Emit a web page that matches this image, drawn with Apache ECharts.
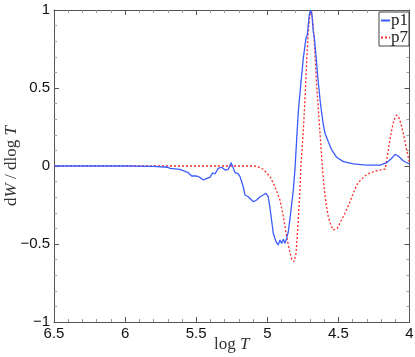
<!DOCTYPE html>
<html>
<head>
<meta charset="utf-8">
<script src="https://cdn.jsdelivr.net/npm/echarts@6/dist/echarts.min.js"></script>
<style>
  html, body { margin: 0; padding: 0; background: #fff; }
  #chart { width: 415px; height: 357px; }
</style>
</head>
<body>
<div id="chart"></div>
<script>
const seriesNames = ["p1", "p7"];

const p1LogT = [6.5, 6.2, 6.0, 5.8, 5.7, 5.684, 5.614, 5.556, 5.532, 5.497, 5.473, 5.45, 5.426, 5.403, 5.384,
  5.368, 5.345, 5.333, 5.321, 5.297, 5.274, 5.255, 5.243, 5.227, 5.204, 5.192, 5.169, 5.157, 5.134, 5.122,
  5.098, 5.075, 5.051, 5.028, 5.009, 4.993, 4.976, 4.958, 4.939, 4.923, 4.911, 4.899, 4.887, 4.876, 4.864,
  4.852, 4.836, 4.817, 4.805, 4.793, 4.782, 4.765, 4.747, 4.728, 4.719, 4.712, 4.705, 4.695, 4.686, 4.677,
  4.670, 4.658, 4.642, 4.625, 4.606, 4.594, 4.571, 4.547, 4.512, 4.465, 4.395, 4.301, 4.207, 4.16, 4.125,
  4.102, 4.079, 4.043, 4.0];
const p1Values = [0, 0, 0, -0.002, -0.008, -0.015, -0.021, -0.043, -0.064, -0.064, -0.073, -0.09, -0.079, -0.073, -0.043,
  -0.051, -0.015, -0.026, -0.008, -0.026, -0.021, 0.021, -0.004, -0.043, -0.051, -0.068, -0.133, -0.186, -0.197, -0.207,
  -0.229, -0.218, -0.197, -0.186, -0.175, -0.197, -0.303, -0.431, -0.485, -0.506, -0.474, -0.496, -0.47, -0.496, -0.464,
  -0.421, -0.303, -0.154, -0.015, 0.177, 0.348, 0.519, 0.69, 0.819, 0.84, 0.904, 0.968, 1.0, 0.968, 0.861,
  0.829, 0.712, 0.54, 0.391, 0.263, 0.21, 0.156, 0.103, 0.056, 0.028, 0.013, 0.006, 0.006, 0.021, 0.049,
  0.075, 0.064, 0.032, 0.013];

const p7LogT = [6.5, 6.0, 5.5, 5.1, 5.075, 5.028, 4.981, 4.946, 4.911, 4.887, 4.864, 4.845, 4.828, 4.812, 4.798,
  4.782, 4.77, 4.765, 4.747, 4.735, 4.723, 4.712, 4.7, 4.688, 4.677, 4.665, 4.653, 4.635, 4.617, 4.61,
  4.601, 4.587, 4.571, 4.554, 4.536, 4.524, 4.508, 4.484, 4.454, 4.423, 4.395, 4.371, 4.348, 4.313, 4.283,
  4.23, 4.172, 4.16, 4.142, 4.125, 4.109, 4.09, 4.072, 4.055, 4.036, 4.02, 4.0];
const p7Values = [0, 0, 0, 0, -0.002, -0.021, -0.068, -0.133, -0.218, -0.325, -0.453, -0.538, -0.598, -0.613, -0.56,
  -0.346, -0.154, -0.015, 0.22, 0.434, 0.669, 0.861, 0.968, 0.989, 0.904, 0.712, 0.519, 0.284, 0.049, -0.036,
  -0.133, -0.239, -0.325, -0.378, -0.41, -0.421, -0.4, -0.357, -0.303, -0.239, -0.175, -0.122, -0.094, -0.064, -0.047,
  -0.03, -0.02, 0.038, 0.145, 0.231, 0.295, 0.327, 0.306, 0.252, 0.177, 0.103, 0.02];

const xTickLabels = ["4", "4.5", "5", "5.5", "6", "6.5"];

const tickFont = "'Liberation Sans', Arial, sans-serif";
const nameFont = "'Liberation Serif', 'DejaVu Serif', serif";
const axisColor = "#555";

const chart = echarts.init(document.getElementById("chart"), null, { renderer: "canvas" });

const baseAxis = {
  axisLine: { show: true, onZero: false, lineStyle: { color: axisColor, width: 1 } },
  axisTick: { show: true, inside: true, length: 5, lineStyle: { color: axisColor } },
  minorTick: { show: true, splitNumber: 5, length: 3, lineStyle: { color: "#999" } },
  splitLine: { show: false },
};

const nameRich = {
  r: { fontFamily: nameFont, fontSize: 17, color: "#333" },
  i: { fontFamily: nameFont, fontSize: 17, fontStyle: "italic", color: "#333" },
};

const option = {
  backgroundColor: "#fff",
  animation: false,
  grid: { left: 54, right: 5.5, top: 10, bottom: 35, containLabel: false, outerBoundsMode: "none" },
  legend: {
    data: seriesNames,
    right: 6,
    top: 12,
    orient: "vertical",
    itemWidth: 9,
    itemHeight: 10,
    itemGap: 0,
    padding: [0, 1, 0, 1],
    borderColor: "#444",
    borderWidth: 1,
    backgroundColor: "#fff",
    itemStyle: { color: "transparent", borderWidth: 0, opacity: 0 },
    textStyle: { fontFamily: nameFont, fontSize: 17, color: "#222", padding: [0, 0, 0, -4] },
  },
  xAxis: [
    Object.assign({}, baseAxis, {
      type: "value",
      min: 4,
      max: 6.5,
      interval: 0.5,
      inverse: true,
      position: "bottom",
      name: "{r|log }{i|T}",
      nameLocation: "middle",
      nameGap: 14,
      nameMoveOverlap: false,
      nameTextStyle: { rich: nameRich },
      axisLabel: {
        margin: 4,
        fontFamily: tickFont,
        fontSize: 15,
        color: "#111",
        formatter: (v) => xTickLabels.find((t) => Number(t) === v) || String(v),
      },
    }),
    Object.assign({}, baseAxis, {
      type: "value",
      min: 4,
      max: 6.5,
      interval: 0.5,
      inverse: true,
      position: "top",
      axisLabel: { show: false },
    }),
  ],
  yAxis: [
    Object.assign({}, baseAxis, {
      type: "value",
      min: -1,
      max: 1,
      interval: 0.5,
      position: "left",
      name: "{r|d}{i|W}{r| / dlog }{i|T}",
      nameLocation: "middle",
      nameRotate: 90,
      nameGap: 34,
      nameMoveOverlap: false,
      nameTextStyle: { rich: nameRich },
      axisLabel: {
        margin: 4,
        fontFamily: tickFont,
        fontSize: 15,
        color: "#111",
        formatter: (v) => String(v).replace("-", "\u2212"),
      },
    }),
    Object.assign({}, baseAxis, {
      type: "value",
      min: -1,
      max: 1,
      interval: 0.5,
      position: "right",
      axisLabel: { show: false },
    }),
  ],
  series: [
    {
      name: seriesNames[0],
      type: "line",
      symbol: "none",
      z: 3,
      color: "#3a5cff",
      lineStyle: { width: 1.3, color: "#3a5cff" },
      data: p1LogT.map((x, i) => [x, p1Values[i]]),
    },
    {
      name: seriesNames[1],
      type: "line",
      symbol: "none",
      z: 2,
      color: "#ff2a2a",
      lineStyle: { width: 1.3, color: "#ff2a2a", type: [2, 2] },
      data: p7LogT.map((x, i) => [x, p7Values[i]]),
    },
  ],
};

chart.setOption(option);
</script>
</body>
</html>
